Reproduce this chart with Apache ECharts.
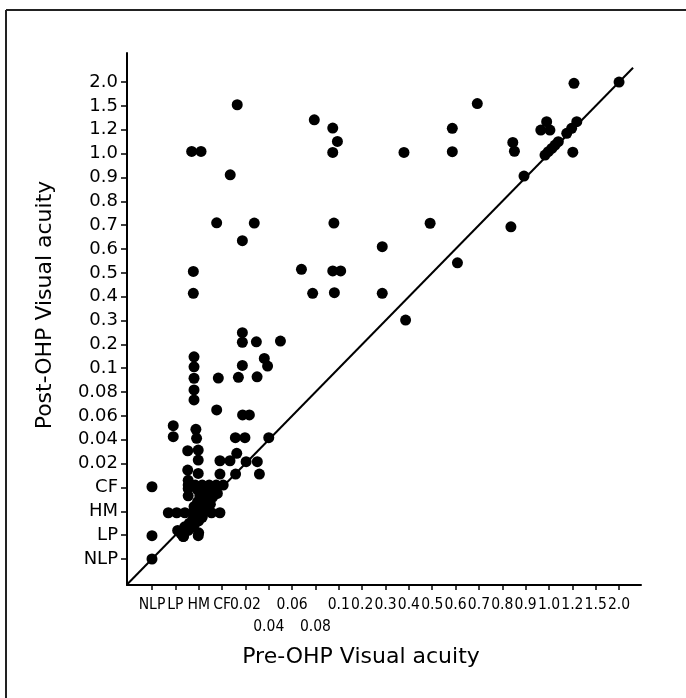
<!DOCTYPE html>
<html>
<head>
<meta charset="utf-8">
<script src="https://cdn.jsdelivr.net/npm/echarts@6/dist/echarts.min.js"></script>
<style>
html,body{margin:0;padding:0;background:#fff;}
#chart{width:686px;height:698px;}
</style>
</head>
<body>
<div id="chart"></div>
<script>
// Ordinal visual-acuity scale used on both axes (index 0 = NLP ... 20 = 2.0)
const xTickLabels = ['NLP','LP','HM','CF','0.02','0.04','0.06','0.08','0.1','0.2','0.3','0.4','0.5','0.6','0.7','0.8','0.9','1.0','1.2','1.5','2.0'];
const yTickLabels = ['NLP','LP','HM','CF','0.02','0.04','0.06','0.08','0.1','0.2','0.3','0.4','0.5','0.6','0.7','0.8','0.9','1.0','1.2','1.5','2.0'];
const xTitle = 'Pre-OHP Visual acuity';
const yTitle = 'Post-OHP Visual acuity';

// Patient points as positions on the ordinal scale
const preIdx = [
  3.65,6.95,7.74,7.94,7.74,1.70,2.10,3.35,2.77,4.38,3.87,7.79,1.77,6.40,7.74,8.08,1.77,6.88,7.81,
  3.87,3.87,4.47,5.50,1.80,1.80,1.80,1.80,1.80,2.84,3.70,4.50,3.87,4.81,4.95,2.77,3.88,4.17,
  18.07,20.00,13.93,12.86,12.86,10.79,15.45,15.52,16.90,16.65,17.04,18.02,
  16.83,16.97,17.12,17.26,17.40,17.76,17.97,18.19,15.93,11.91,15.37,9.86,9.86,13.08,10.86,
  0.91,0.91,1.88,1.91,3.57,3.98,5.00,
  1.53,1.98,1.98,2.91,3.34,3.63,4.03,4.51,4.60,3.58,2.91,1.53,1.98,
  0.00,0.00,0.00,1.98,1.34,
  0.70,1.06,1.41,1.77,2.13,2.55,2.91,
  1.55,1.85,2.15,2.45,2.75,3.05,
  1.10,1.25,1.35,1.40,1.55,1.60,1.70,1.75,1.85,1.90,2.00,2.05,2.15,2.20,2.30,2.35,2.50,2.60,2.75,
  1.80,1.95,2.05,1.95,2.10,1.55,1.55,1.55,2.25,2.55,2.80,2.00
];
const postIdx = [
  19.05,18.42,18.07,17.51,17.05,17.09,17.09,16.11,14.10,14.09,13.35,14.09,12.06,12.15,12.08,12.08,11.14,11.14,11.17,
  9.49,9.09,9.11,9.14,8.48,8.06,7.58,7.09,6.67,7.59,7.62,7.64,8.12,8.41,8.09,6.25,6.04,6.04,
  19.95,20.00,19.10,18.06,17.08,17.05,17.47,17.10,18.34,17.99,17.99,17.06,
  16.94,17.08,17.22,17.36,17.50,17.85,18.06,18.34,16.06,14.08,13.93,13.10,11.14,12.42,10.02,
  5.59,5.13,5.44,5.06,5.09,5.09,5.09,
  4.54,4.57,4.15,4.12,4.12,4.43,4.08,4.08,3.56,3.56,3.56,3.73,3.59,
  3.03,0.98,0.00,0.98,0.94,
  1.94,1.94,1.94,1.94,1.94,1.94,1.94,
  3.10,3.10,3.10,3.10,3.10,3.10,
  1.20,1.05,0.95,1.35,1.20,1.50,1.35,1.65,1.50,1.80,1.60,2.05,1.75,2.20,2.00,2.45,2.30,2.60,2.75,
  2.20,2.40,2.65,2.90,3.05,2.65,2.95,3.30,2.80,2.80,2.75,1.10
];
// identity reference line (pre = post) range on the ordinal scale
const identityRange = [-1.07, 20.6];

const points = preIdx.map((x, i) => [x, postIdx[i]]);
const tickVals = xTickLabels.map((_, i) => i);

const chart = echarts.init(document.getElementById('chart'), null, {renderer: 'canvas'});
const tickFontX = '"DejaVu Sans Condensed","Liberation Sans Narrow",sans-serif';
const labelFont = '"DejaVu Sans","Liberation Sans",sans-serif';

chart.setOption({
  animation: false,
  backgroundColor: '#fff',
  grid: {left: 127, top: 53, right: 45, bottom: 113, containLabel: false},
  xAxis: {
    type: 'value', min: -1.07, max: 20.94,
    splitLine: {show: false},
    axisLine: {onZero: false, lineStyle: {color: '#000', width: 2}},
    axisTick: {show: true, customValues: tickVals, length: 5, inside: false, lineStyle: {color: '#000', width: 1.5}},
    axisLabel: {
      customValues: tickVals, margin: 9, color: '#000',
      hideOverlap: false, showMinLabel: true, showMaxLabel: true,
      fontFamily: tickFontX, fontSize: 15.5, lineHeight: 22,
      formatter: function (v) {
        const i = Math.round(v);
        const t = xTickLabels[i];
        return (i === 5 || i === 7) ? '\n' + t : t;
      }
    }
  },
  yAxis: {
    type: 'value', min: -1.09, max: 21.22,
    splitLine: {show: false},
    axisLine: {onZero: false, lineStyle: {color: '#000', width: 2}},
    axisTick: {show: true, customValues: tickVals, length: 6, inside: false, lineStyle: {color: '#000', width: 1.5}},
    axisLabel: {
      customValues: tickVals, margin: 9, color: '#000',
      hideOverlap: false, showMinLabel: true, showMaxLabel: true,
      fontFamily: labelFont, fontSize: 18,
      formatter: function (v) { return yTickLabels[Math.round(v)]; }
    }
  },
  graphic: [
    {type: 'line', shape: {x1: 6, y1: 10, x2: 686, y2: 10}, style: {stroke: '#222', lineWidth: 2}},
    {type: 'line', shape: {x1: 6, y1: 10, x2: 6, y2: 698}, style: {stroke: '#222', lineWidth: 2}},
    {type: 'text', x: 361, y: 657, style: {text: xTitle, fill: '#000', font: '22px "DejaVu Sans", sans-serif', textAlign: 'center', textVerticalAlign: 'middle'}},
    {type: 'text', x: 45, y: 305, rotation: Math.PI / 2, style: {text: yTitle, fill: '#000', font: '22px "DejaVu Sans", sans-serif', textAlign: 'center', textVerticalAlign: 'middle'}}
  ],
  series: [
    {
      type: 'line', data: identityRange.map(v => [v, v]), symbol: 'none',
      lineStyle: {color: '#000', width: 2}, silent: true, z: 1
    },
    {
      type: 'scatter', data: points, symbol: 'circle', symbolSize: 11,
      itemStyle: {color: '#000', opacity: 1}, z: 2
    }
  ]
});
</script>
</body>
</html>
